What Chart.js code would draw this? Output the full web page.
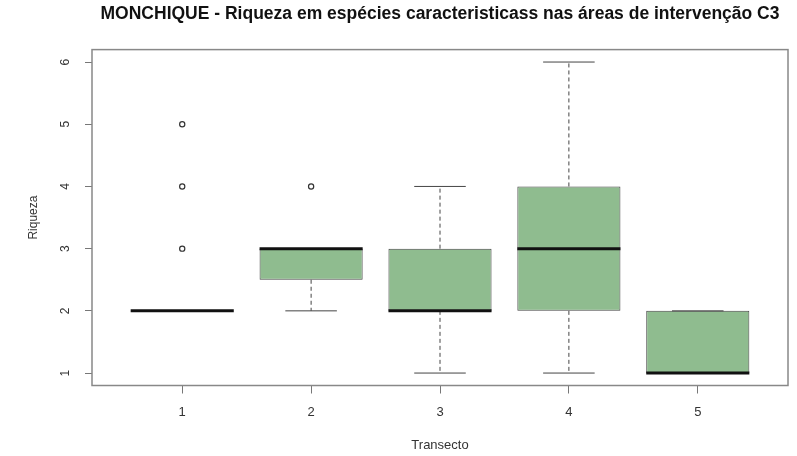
<!DOCTYPE html>
<html>
<head>
<meta charset="utf-8">
<script src="https://cdn.jsdelivr.net/npm/chart.js@4"></script>
<style>
html,body{margin:0;padding:0;background:#fff;}
#wrap{width:797px;height:456px;}
</style>
</head>
<body>
<div id="wrap"><canvas id="c" width="797" height="456"></canvas></div>
<script>
// ---- data ----
const transects = [1, 2, 3, 4, 5];
const q1 = [2, 2.5, 2, 2, 1];
const medians = [2, 3, 2, 3, 1];
const q3 = [2, 3, 3, 4, 2];
const whiskerLow = [2, 2, 1, 1, 1];
const whiskerHigh = [2, 3, 4, 6, 2];
const outlierX = [1, 1, 1, 2];
const outlierY = [3, 4, 5, 4];
const yTicks = [1, 2, 3, 4, 5, 6];
const xTicks = [1, 2, 3, 4, 5];

const titleText = 'MONCHIQUE - Riqueza em espécies caracteristicass nas áreas de intervenção C3';
const FONT = "'Liberation Sans', Arial, sans-serif";
const BOXW = 0.8;

const boxPlugin = {
  id: 'boxparts',
  afterDatasetsDraw(chart) {
    const {ctx, chartArea: a, scales: {x, y}} = chart;
    ctx.save();
    transects.forEach((t, i) => {
      const cx = x.getPixelForValue(t);
      const sl = x.getPixelForValue(t - BOXW / 4), sr = x.getPixelForValue(t + BOXW / 4);
      ctx.strokeStyle = '#444';
      ctx.lineWidth = 1;
      ctx.setLineDash([4, 3]);
      ctx.beginPath();
      if (whiskerHigh[i] > q3[i]) { ctx.moveTo(cx, y.getPixelForValue(q3[i])); ctx.lineTo(cx, y.getPixelForValue(whiskerHigh[i])); }
      if (whiskerLow[i] < q1[i]) { ctx.moveTo(cx, y.getPixelForValue(q1[i])); ctx.lineTo(cx, y.getPixelForValue(whiskerLow[i])); }
      ctx.stroke();
      ctx.setLineDash([]);
      ctx.beginPath();
      ctx.moveTo(sl, y.getPixelForValue(whiskerHigh[i])); ctx.lineTo(sr, y.getPixelForValue(whiskerHigh[i]));
      ctx.moveTo(sl, y.getPixelForValue(whiskerLow[i])); ctx.lineTo(sr, y.getPixelForValue(whiskerLow[i]));
      ctx.stroke();
      const ml = x.getPixelForValue(t - BOXW / 2), mr = x.getPixelForValue(t + BOXW / 2);
      ctx.strokeStyle = '#111';
      ctx.lineWidth = 3;
      ctx.beginPath();
      ctx.moveTo(ml, y.getPixelForValue(medians[i])); ctx.lineTo(mr, y.getPixelForValue(medians[i]));
      ctx.stroke();
    });
    ctx.strokeStyle = '#888';
    ctx.lineWidth = 1.5;
    ctx.strokeRect(a.left, a.top, a.right - a.left, a.bottom - a.top);
    ctx.fillStyle = '#333';
    ctx.font = '12px ' + FONT;
    ctx.textAlign = 'center';
    ctx.textBaseline = 'middle';
    yTicks.forEach(v => {
      ctx.save();
      ctx.translate(a.left - 26, y.getPixelForValue(v));
      ctx.rotate(-Math.PI / 2);
      ctx.fillText(String(v), 0, 0);
      ctx.restore();
    });
    ctx.restore();
  }
};

new Chart(document.getElementById('c'), {
  type: 'bar',
  data: {
    datasets: [{
      type: 'bar',
      data: transects.map((t, i) => ({x: t, y: [q1[i], q3[i]]})),
      backgroundColor: '#8FBC8F',
      borderColor: '#444',
      borderWidth: 1,
      borderSkipped: false,
      barPercentage: BOXW,
      categoryPercentage: 1.0,
      order: 2
    }, {
      type: 'scatter',
      data: outlierX.map((xv, i) => ({x: xv, y: outlierY[i]})),
      pointStyle: 'circle',
      pointRadius: 2.6,
      pointBackgroundColor: '#fff',
      pointBorderColor: '#333',
      pointBorderWidth: 1.2,
      order: 1
    }]
  },
  options: {
    responsive: false,
    animation: false,
    devicePixelRatio: 1,
    layout: {padding: {left: 0, right: 9, top: 0, bottom: 0}},
    plugins: {
      legend: {display: false},
      tooltip: {enabled: false},
      title: {
        display: true,
        text: titleText,
        fullSize: false,
        color: '#111',
        font: {family: FONT, size: 17.5, weight: 'bold'},
        padding: {top: 3.5, bottom: 25.1}
      }
    },
    scales: {
      x: {
        type: 'linear',
        min: 0.3,
        max: 5.7,
        offset: false,
        afterBuildTicks: s => { s.ticks = xTicks.map(v => ({value: v})); },
        afterFit: s => { s.height = 70.5; },
        grid: {display: true, drawOnChartArea: false, drawTicks: true, tickLength: 8, color: '#777', offset: false},
        border: {display: false},
        ticks: {color: '#333', font: {family: FONT, size: 13}, padding: 11, maxRotation: 0},
        title: {display: true, text: 'Transecto', color: '#333', font: {family: FONT, size: 13}, padding: {top: 0, bottom: 2.8}}
      },
      y: {
        type: 'linear',
        min: 0.8,
        max: 6.2,
        afterBuildTicks: s => { s.ticks = yTicks.map(v => ({value: v})); },
        afterFit: s => { s.width = 92; },
        grid: {display: true, drawOnChartArea: false, drawTicks: true, tickLength: 7, color: '#777'},
        border: {display: false},
        ticks: {display: false},
        title: {display: true, text: 'Riqueza', color: '#333', font: {family: FONT, size: 12}, padding: {top: 26, bottom: 0}}
      }
    }
  },
  plugins: [boxPlugin]
});
</script>
</body>
</html>
